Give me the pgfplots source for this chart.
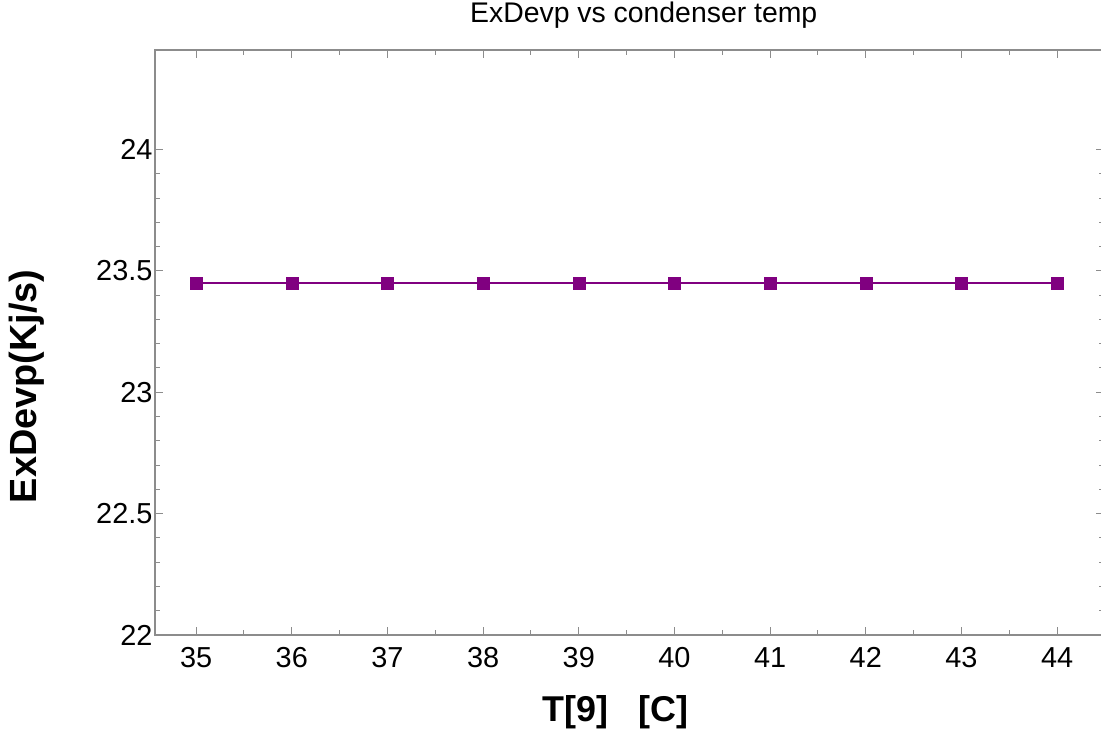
\documentclass[border=0pt]{standalone}
\usepackage{pgfplots}
\pgfplotsset{compat=1.18}
\usepackage{fontspec}
\setmainfont{Liberation Sans}
\definecolor{lineP}{HTML}{800080}
\definecolor{axG}{HTML}{8C8C8C}
\begin{document}
\begin{tikzpicture}
\useasboundingbox (-155bp,-103bp) rectangle (946bp,635bp);
\begin{axis}[
  at={(0,0)}, anchor=south west,
  scale only axis, width=949bp, height=585bp,
  xmin=34.57, xmax=44.49, ymin=22, ymax=24.41,
  xtick={35,36,37,38,39,40,41,42,43,44},
  ytick={22,22.5,23,23.5,24},
  yticklabels={22,22.5,23,23.5,24},
  minor x tick num=1, minor y tick num=4,
  tick align=inside,
  major tick length=8bp, minor tick length=5bp,
  axis line style={axG, line width=1.5bp},
  every tick/.style={axG, line width=1bp},
  /pgf/number format/assume math mode=true,
  ticklabel style={font=\fontsize{29}{32}\selectfont, text=black},
  xticklabel style={yshift=-9bp},
  yticklabel style={xshift=1bp},
  title={ExDevp vs condenser temp},
  title style={at={(axis description cs:0.515,1)}, anchor=base, yshift=22bp, font=\fontsize{28.5}{30}\selectfont},
  xlabel={T[9]\ \ \ [C]},
  xlabel style={at={(axis description cs:0.485,0)}, anchor=center, yshift=-77bp, font=\fontsize{36}{40}\selectfont\bfseries},
  ylabel={ExDevp(Kj/s)},
  ylabel style={at={(axis description cs:-0.1353,0.425)}, anchor=center, font=\fontsize{38}{40}\selectfont\bfseries},
]
\addplot[lineP, line width=2.5bp, mark=square*, mark size=6bp, mark options={fill=lineP, draw=lineP, line width=0.5bp}]
 coordinates {(35,23.45) (36,23.45) (37,23.45) (38,23.45) (39,23.45) (40,23.45) (41,23.45) (42,23.45) (43,23.45) (44,23.45)};
\end{axis}
\end{tikzpicture}
\end{document}
